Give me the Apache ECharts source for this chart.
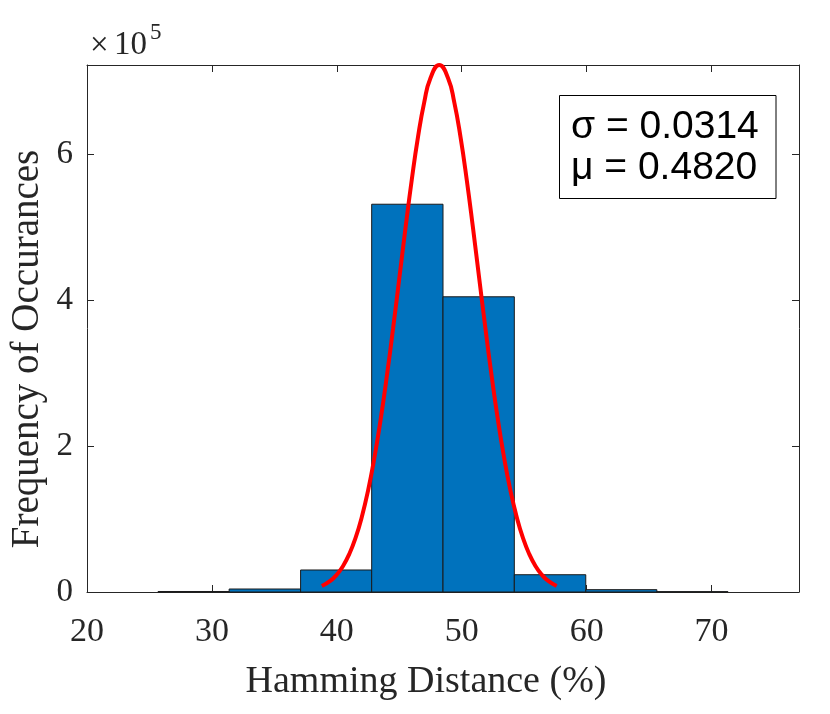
<!DOCTYPE html>
<html>
<head>
<meta charset="utf-8">
<script src="https://cdn.jsdelivr.net/npm/echarts@6/dist/echarts.min.js"></script>
<style>
html,body{margin:0;padding:0;background:#fff;}
#chart{width:830px;height:714px;}
</style>
</head>
<body>
<div id="chart"></div>
<script>
// Histogram bin edges (Hamming distance, %)
var binEdges = [25.69, 31.38, 37.10, 42.79, 48.50, 54.21, 59.93, 65.62, 71.31];
// Counts per bin
var counts = [700, 4100, 30200, 532000, 405000, 23700, 3200, 500];
// Fitted normal curve
var curveX = [38.8, 39.5, 40, 40.5, 41, 41.5, 42, 42.5, 43, 43.5, 44, 44.5, 45, 45.5, 46, 46.5, 47, 47.5, 48.2,
              48.9, 49.4, 49.9, 50.4, 50.9, 51.4, 51.9, 52.4, 52.9, 53.4, 53.9, 54.4, 54.9, 55.4, 55.9, 56.4, 56.9, 57.6];
var curveY = [8190, 15570, 23890, 35750, 52170, 74220, 102930, 139180, 183480, 235860, 295550, 361100, 430150, 499560, 565640, 624430, 672080, 705260, 723000,
              705260, 672080, 624430, 565640, 499560, 430150, 361100, 295550, 235860, 183480, 139180, 102930, 74220, 52170, 35750, 23890, 15570, 8190];
// Tick values
var xTicks = [20, 30, 40, 50, 60, 70];
var yTicks = [0, 200000, 400000, 600000];
var sigmaText = 'σ = 0.0314';
var muText = 'μ = 0.4820';

var histData = [];
for (var i = 0; i < counts.length; i++) histData.push([binEdges[i], binEdges[i + 1], counts[i]]);
var curveData = [];
for (var j = 0; j < curveX.length; j++) curveData.push([curveX[j], curveY[j]]);

var serif = 'Liberation Serif, Times New Roman, serif';
var sans = 'Liberation Sans, Arial, sans-serif';
var axisColor = '#262626';

var chart = echarts.init(document.getElementById('chart'));
var baseX = {
  type: 'value', min: 20, max: 77,
  axisLine: {show: true, onZero: false, lineStyle: {color: axisColor, width: 1}},
  axisTick: {show: true, inside: true, length: 7, customValues: xTicks, lineStyle: {color: axisColor}},
  splitLine: {show: false}
};
var baseY = {
  type: 'value', min: 0, max: 723000,
  axisLine: {show: true, onZero: false, lineStyle: {color: axisColor, width: 1}},
  axisTick: {show: true, inside: true, length: 7, customValues: yTicks, lineStyle: {color: axisColor}},
  splitLine: {show: false}
};
chart.setOption({
  animation: false,
  backgroundColor: '#fff',
  grid: {left: 87, right: 31, top: 65, bottom: 122, containLabel: false},
  xAxis: [
    Object.assign({}, baseX, {position: 'bottom',
      axisLabel: {show: true, customValues: xTicks, margin: 23, color: axisColor, fontFamily: serif, fontSize: 34}}),
    Object.assign({}, baseX, {position: 'top', axisLabel: {show: false}})
  ],
  yAxis: [
    Object.assign({}, baseY, {position: 'left',
      axisLabel: {show: true, customValues: yTicks, margin: 14, color: axisColor, fontFamily: serif, fontSize: 33,
        formatter: function (v) { return String(Math.round(v / 100000)); }}}),
    Object.assign({}, baseY, {position: 'right', axisLabel: {show: false}})
  ],
  series: [
    {
      type: 'custom',
      xAxisIndex: 0, yAxisIndex: 0,
      encode: {x: [0, 1], y: 2},
      data: histData,
      z: 2,
      renderItem: function (params, api) {
        var p0 = api.coord([api.value(0), api.value(2)]);
        var p1 = api.coord([api.value(1), 0]);
        return {
          type: 'rect',
          shape: {x: p0[0], y: p0[1], width: p1[0] - p0[0], height: p1[1] - p0[1]},
          style: {fill: '#0072BD', stroke: '#1a1a1a', lineWidth: 1}
        };
      }
    },
    {
      type: 'line',
      xAxisIndex: 0, yAxisIndex: 0,
      data: curveData,
      smooth: true,
      showSymbol: false,
      z: 5,
      lineStyle: {color: '#ff0000', width: 4}
    }
  ],
  graphic: [
    {type: 'text', x: 90, y: 46, style: {text: '×', font: '33px ' + serif, fill: axisColor, textAlign: 'left', textVerticalAlign: 'middle'}},
    {type: 'text', x: 114, y: 45, style: {text: '10', font: '33px ' + serif, fill: axisColor, textAlign: 'left', textVerticalAlign: 'middle'}},
    {type: 'text', x: 150, y: 33, style: {text: '5', font: '23px ' + serif, fill: axisColor, textAlign: 'left', textVerticalAlign: 'middle'}},
    {type: 'text', x: 426, y: 682, style: {text: 'Hamming Distance (%)', font: '38px ' + serif, fill: axisColor, textAlign: 'center', textVerticalAlign: 'middle'}},
    {type: 'text', x: 28, y: 349, rotation: Math.PI / 2, style: {text: 'Frequency of Occurances', font: '39px ' + serif, fill: axisColor, textAlign: 'center', textVerticalAlign: 'middle'}},
    {type: 'rect', z: 10, shape: {x: 559.5, y: 95.5, width: 216.5, height: 103}, style: {fill: '#fff', stroke: '#000', lineWidth: 1}},
    {type: 'text', z: 11, x: 571, y: 127, style: {text: sigmaText, font: '39px ' + sans, fill: '#000', textAlign: 'left', textVerticalAlign: 'middle'}},
    {type: 'text', z: 11, x: 571, y: 168, style: {text: muText, font: '39px ' + sans, fill: '#000', textAlign: 'left', textVerticalAlign: 'middle'}}
  ]
});
</script>
</body>
</html>
